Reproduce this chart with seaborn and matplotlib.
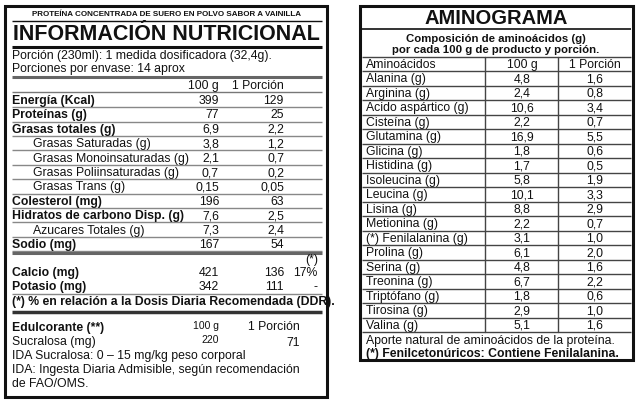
import matplotlib
matplotlib.use("Agg")
import matplotlib.pyplot as plt
import seaborn as sns

sns.set_theme(style="white")
plt.rcParams['font.family'] = ['Liberation Sans', 'DejaVu Sans']

# Datos de la tabla nutricional
nutrientes = ["Energía (Kcal)", "Proteínas (g)", "Grasas totales (g)", "Grasas Saturadas (g)",
              "Grasas Monoinsaturadas (g)", "Grasas Poliinsaturadas (g)", "Grasas Trans (g)",
              "Colesterol (mg)", "Hidratos de carbono Disp. (g)", "Azucares Totales (g)", "Sodio (mg)"]
nut_100g = ["399", "77", "6,9", "3,8", "2,1", "0,7", "0,15", "196", "7,6", "7,3", "167"]
nut_porcion = ["129", "25", "2,2", "1,2", "0,7", "0,2", "0,05", "63", "2,5", "2,4", "54"]
nut_negrita = [True, True, True, False, False, False, False, True, True, False, True]

minerales = ["Calcio (mg)", "Potasio (mg)"]
min_100g = ["421", "342"]
min_porcion = ["136", "111"]
min_pct = ["17%", "-"]

# Aminograma
aminoacidos = ["Alanina (g)", "Arginina (g)", "Acido aspártico (g)", "Cisteína (g)", "Glutamina (g)",
               "Glicina (g)", "Histidina (g)", "Isoleucina (g)", "Leucina (g)", "Lisina (g)",
               "Metionina (g)", "(*) Fenilalanina (g)", "Prolina (g)", "Serina (g)", "Treonina (g)",
               "Triptófano (g)", "Tirosina (g)", "Valina (g)"]
amino_100g = ["4,8", "2,4", "10,6", "2,2", "16,9", "1,8", "1,7", "5,8", "10,1", "8,8", "2,2",
              "3,1", "6,1", "4,8", "6,7", "1,8", "2,9", "5,1"]
amino_porcion = ["1,6", "0,8", "3,4", "0,7", "5,5", "0,6", "0,5", "1,9", "3,3", "2,9", "0,7",
                 "1,0", "2,0", "1,6", "2,2", "0,6", "1,0", "1,6"]

fig = plt.figure(figsize=(6.39, 4.06), dpi=100)
ax = fig.add_axes([0, 0, 1, 1])
ax.set_xlim(0, 639)
ax.set_ylim(406, 0)
ax.axis("off")

fs = 8.8
def t(x, y, s, ha="left", bold=False, size=fs):
    ax.text(x, y, s, ha=ha, va="center", fontsize=size, fontweight="bold" if bold else "normal", color="#111")

def hline(x0, x1, y, lw=1.0, c="#555"):
    ax.plot([x0, x1], [y, y], color=c, lw=lw, solid_capstyle="butt")

# ---- Caja izquierda ----
ax.add_patch(plt.Rectangle((5, 7), 322, 391, fill=False, lw=2.2, ec="#111"))
t(166, 15, "PROTEÍNA CONCENTRADA DE SUERO EN POLVO SABOR A VAINILLA", ha="center", bold=True, size=5.8)
hline(12, 322, 22, 1.0, "#111")
t(166, 35, "INFORMACIÓN NUTRICIONAL", ha="center", bold=True, size=15.5)
hline(12, 322, 48, 2.2, "#111")
t(12, 56, "Porción (230ml): 1 medida dosificadora (32,4g).")
t(12, 69, "Porciones por envase: 14 aprox")
hline(12, 322, 78, 2.2, "#666")
x100, xpor, xpct = 219, 284, 318
t(x100, 86, "100 g", ha="right")
t(xpor, 86, "1 Porción", ha="right")
hline(12, 322, 93, 1.0, "#777")
y = 101
for nom, a, b, neg in zip(nutrientes, nut_100g, nut_porcion, nut_negrita):
    t(12 if neg else 33, y, nom, bold=neg)
    t(x100, y, a, ha="right")
    t(xpor, y, b, ha="right")
    hline(12, 322, y + 7.2, 1.0, "#888")
    y += 14.4
hline(12, 322, 254, 2.2, "#666")
t(xpct, 260, "(*)", ha="right")
y = 273
for nom, a, b, p in zip(minerales, min_100g, min_porcion, min_pct):
    t(12, y, nom, bold=True)
    t(x100, y, a, ha="right")
    t(xpor, y, b, ha="right")
    t(xpct, y, p, ha="right")
    y += 14.4
hline(12, 322, 295, 1.0, "#888")
t(12, 302, "(*) % en relación a la Dosis Diaria Recomendada (DDR).", bold=True)
hline(12, 322, 313, 2.5, "#333")
t(12, 328, "Edulcorante (**)", bold=True)
t(219, 326, "100 g", ha="right", size=7.5)
t(300, 327, "1 Porción", ha="right")
t(12, 342, "Sucralosa (mg)")
t(219, 340, "220", ha="right", size=7.5)
t(300, 343, "71", ha="right")
t(12, 356, "IDA Sucralosa: 0 – 15 mg/kg peso corporal")
t(12, 370, "IDA: Ingesta Diaria Admisible, según recomendación")
t(12, 384, "de FAO/OMS.")

# ---- Caja derecha ----
ax.add_patch(plt.Rectangle((360, 7), 273, 354, fill=False, lw=2.2, ec="#111"))
t(496, 19, "AMINOGRAMA", ha="center", bold=True, size=14.5)
hline(362, 631, 30, 1.2, "#111")
t(496, 39, "Composición de aminoácidos (g)", ha="center", bold=True, size=8.2)
t(496, 50, "por cada 100 g de producto y porción.", ha="center", bold=True, size=8.2)
paso = 14.5
ytop = 57.5
filas = ["Aminoácidos"] + aminoacidos
col100 = ["100 g"] + amino_100g
colpor = ["1 Porción"] + amino_porcion
for i, (nom, a, b) in enumerate(zip(filas, col100, colpor)):
    yc = ytop + paso * (i + 0.5)
    t(366, yc, nom)
    t(522, yc, a, ha="center")
    t(595, yc, b, ha="center")
    hline(362, 631, ytop + paso * i, 1.0, "#444")
ybot = ytop + paso * len(filas)
hline(362, 631, ybot, 1.0, "#444")
for xv in (485, 558):
    ax.plot([xv, xv], [ytop, ybot], color="#444", lw=1.0)
t(366, ybot + 8, "Aporte natural de aminoácidos de la proteína.")
t(366, ybot + 21, "(*) Fenilcetonúricos: Contiene Fenilalanina.", bold=True)

fig.savefig("out.png", dpi=100)
